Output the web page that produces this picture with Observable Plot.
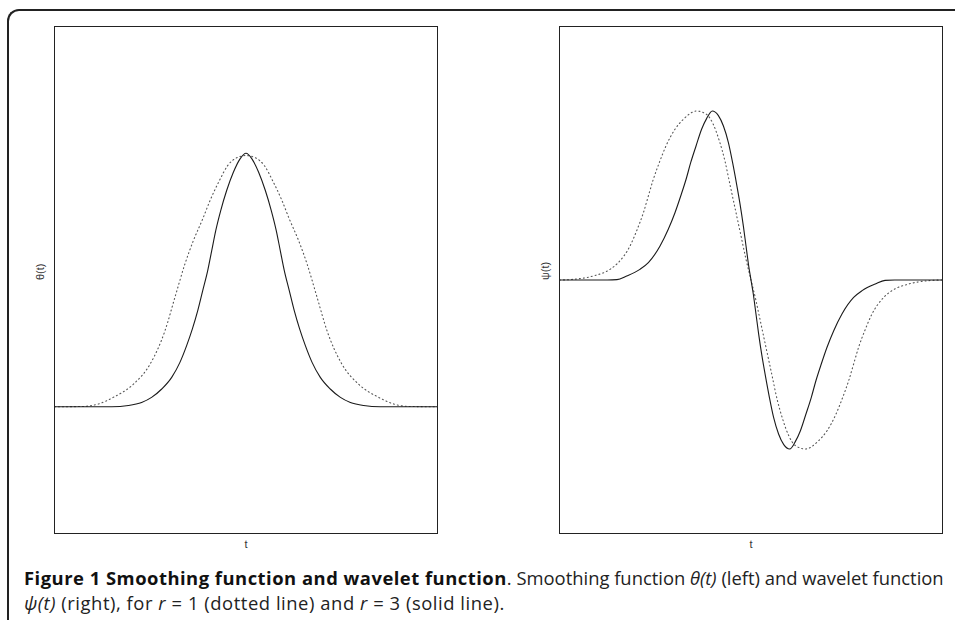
<!DOCTYPE html>
<html>
<head>
<meta charset="utf-8">
<script src="https://cdn.jsdelivr.net/npm/d3@7"></script>
<script src="https://cdn.jsdelivr.net/npm/@observablehq/plot@0.6"></script>
<style>
  html, body { margin: 0; padding: 0; background: #fff; }
  #page { position: relative; width: 955px; height: 620px; overflow: hidden; background: #fff; }
  #frame { position: absolute; left: 7px; top: 9px; width: 980px; height: 640px; pointer-events: none;
           border-top: 2px solid #222; border-left: 2px solid #222; border-top-left-radius: 12px; }
  #left { position: absolute; left: 0; top: 0; width: 470px; height: 560px; }
  #right { position: absolute; left: 505px; top: 0; width: 450px; height: 560px; }
  #left svg, #right svg { max-width: none; background: transparent; }
  #caption { position: absolute; left: 24px; top: 565px; width: 930px;
             font-family: "Open Sans", sans-serif; font-size: 18.4px; line-height: 25px; color: #222; white-space: nowrap; }
  #caption b { color: #111; letter-spacing: 0.5px; }
  #caption .line2 { letter-spacing: 0.55px; }
</style>
</head>
<body>
<div id="page">
  <div id="left"></div>
  <div id="right"></div>
  <div id="caption">
    <div><b>Figure 1 Smoothing function and wavelet function</b>. Smoothing function <i>θ(t)</i> (left) and wavelet function</div>
    <div class="line2"><i>ψ(t)</i> (right), for <i>r</i> = 1 (dotted line) and <i>r</i> = 3 (solid line).</div>
  </div>
  <div id="frame"></div>
</div>
<script>
// Smoothing function θ(t), r = 3 (solid)
const thetaR3T = [-1, -0.701, -0.614, -0.545, -0.493, -0.440, -0.388, -0.345, -0.310, -0.280, -0.252, -0.226, -0.200, -0.179, -0.158, -0.132, -0.101, -0.066, -0.031, 0, 0.031, 0.066, 0.101, 0.132, 0.158, 0.179, 0.200, 0.226, 0.252, 0.280, 0.310, 0.345, 0.388, 0.440, 0.493, 0.545, 0.614, 0.701, 1];
const thetaR3V = [0, 0, 0.005, 0.017, 0.037, 0.070, 0.116, 0.175, 0.241, 0.307, 0.379, 0.458, 0.537, 0.616, 0.695, 0.774, 0.853, 0.925, 0.978, 1, 0.978, 0.925, 0.853, 0.774, 0.695, 0.616, 0.537, 0.458, 0.379, 0.307, 0.241, 0.175, 0.116, 0.070, 0.037, 0.017, 0.005, 0, 0];
// Smoothing function θ(t), r = 1 (dotted)
const thetaR1T = [-1, -0.858, -0.771, -0.693, -0.588, -0.501, -0.423, -0.371, -0.319, -0.275, -0.226, -0.188, -0.139, -0.096, -0.049, 0, 0.049, 0.096, 0.139, 0.188, 0.226, 0.275, 0.319, 0.371, 0.423, 0.501, 0.588, 0.693, 0.771, 0.858, 1];
const thetaR1V = [0, 0.001, 0.011, 0.037, 0.089, 0.168, 0.300, 0.432, 0.563, 0.655, 0.741, 0.813, 0.892, 0.951, 0.982, 0.991, 0.982, 0.951, 0.892, 0.813, 0.741, 0.655, 0.563, 0.432, 0.300, 0.168, 0.089, 0.037, 0.011, 0.001, 0];
// Wavelet function ψ(t), r = 3 (solid)
const psiR3T = [-1, -0.75, -0.70, -0.649, -0.580, -0.536, -0.475, -0.432, -0.397, -0.367, -0.339, -0.315, -0.287, -0.258, -0.232, -0.202, -0.171, -0.144, -0.118, -0.096, -0.075, -0.057, -0.040, -0.026, -0.012, 0,
  0.012, 0.026, 0.040, 0.057, 0.075, 0.096, 0.118, 0.144, 0.171, 0.202, 0.232, 0.258, 0.287, 0.315, 0.339, 0.367, 0.397, 0.432, 0.475, 0.536, 0.580, 0.649, 0.70, 0.75, 1];
const psiR3V = [0, 0, 0.002, 0.024, 0.063, 0.103, 0.201, 0.300, 0.398, 0.497, 0.596, 0.694, 0.793, 0.892, 0.955, 1.0, 0.974, 0.911, 0.813, 0.694, 0.566, 0.448, 0.320, 0.201, 0.083, 0,
  -0.083, -0.201, -0.320, -0.448, -0.566, -0.694, -0.813, -0.911, -0.974, -1.0, -0.955, -0.892, -0.793, -0.694, -0.596, -0.497, -0.398, -0.300, -0.201, -0.103, -0.063, -0.024, -0.002, 0, 0];
// Wavelet function ψ(t), r = 1 (dotted)
const psiR1T = [-1, -0.928, -0.823, -0.736, -0.693, -0.632, -0.594, -0.562, -0.536, -0.510, -0.479, -0.444, -0.397, -0.353, -0.284, -0.232, -0.197, -0.165, -0.136, -0.110, -0.082, -0.052, -0.026, 0,
  0.026, 0.052, 0.082, 0.110, 0.136, 0.165, 0.197, 0.232, 0.284, 0.353, 0.397, 0.444, 0.479, 0.510, 0.536, 0.562, 0.594, 0.632, 0.693, 0.736, 0.823, 0.928, 1];
const psiR1V = [0, 0.004, 0.024, 0.063, 0.103, 0.201, 0.300, 0.398, 0.497, 0.596, 0.694, 0.793, 0.892, 0.951, 1.0, 0.980, 0.921, 0.822, 0.704, 0.566, 0.418, 0.260, 0.122, 0,
  -0.122, -0.260, -0.418, -0.566, -0.704, -0.822, -0.921, -0.980, -1.0, -0.951, -0.892, -0.793, -0.694, -0.596, -0.497, -0.398, -0.300, -0.201, -0.103, -0.063, -0.024, -0.004, 0];

const xLabel = "t";
const leftYLabel = "θ(t)";
const rightYLabel = "ψ(t)";

const toRows = (ts, vs) => ts.map((t, i) => ({t, v: vs[i]}));

function panel(solid, dotted, yDomain, yLabel, width, marginRight) {
  return Plot.plot({
    width, height: 560,
    marginLeft: 54, marginRight, marginTop: 26, marginBottom: 27,
    x: {domain: [-1, 1], axis: null},
    y: {domain: yDomain, axis: null},
    style: {fontFamily: "Liberation Sans, Arial, sans-serif", fontSize: "11px", color: "#333", background: "transparent", maxWidth: "none"},
    marks: [
      Plot.line(dotted, {x: "t", y: "v", curve: "monotone-x", stroke: "#555", strokeWidth: 1.1, strokeDasharray: "1,3"}),
      Plot.line(solid, {x: "t", y: "v", curve: "monotone-x", stroke: "#1a1a1a", strokeWidth: 1.1}),
      Plot.frame({stroke: "#222", strokeWidth: 1}),
      Plot.text([yLabel], {frameAnchor: "left", dx: -14, rotate: -90, fill: "#333", fontSize: 11}),
      Plot.text([xLabel], {frameAnchor: "bottom", dy: 14, fill: "#333", fontSize: 11})
    ]
  });
}

document.getElementById("left").appendChild(
  panel(toRows(thetaR3T, thetaR3V), toRows(thetaR1T, thetaR1V), [-0.5, 1.5], leftYLabel, 470, 33));
document.getElementById("right").appendChild(
  panel(toRows(psiR3T, psiR3V), toRows(psiR1T, psiR1V), [-1.5, 1.5], rightYLabel, 450, 13));
</script>
</body>
</html>
